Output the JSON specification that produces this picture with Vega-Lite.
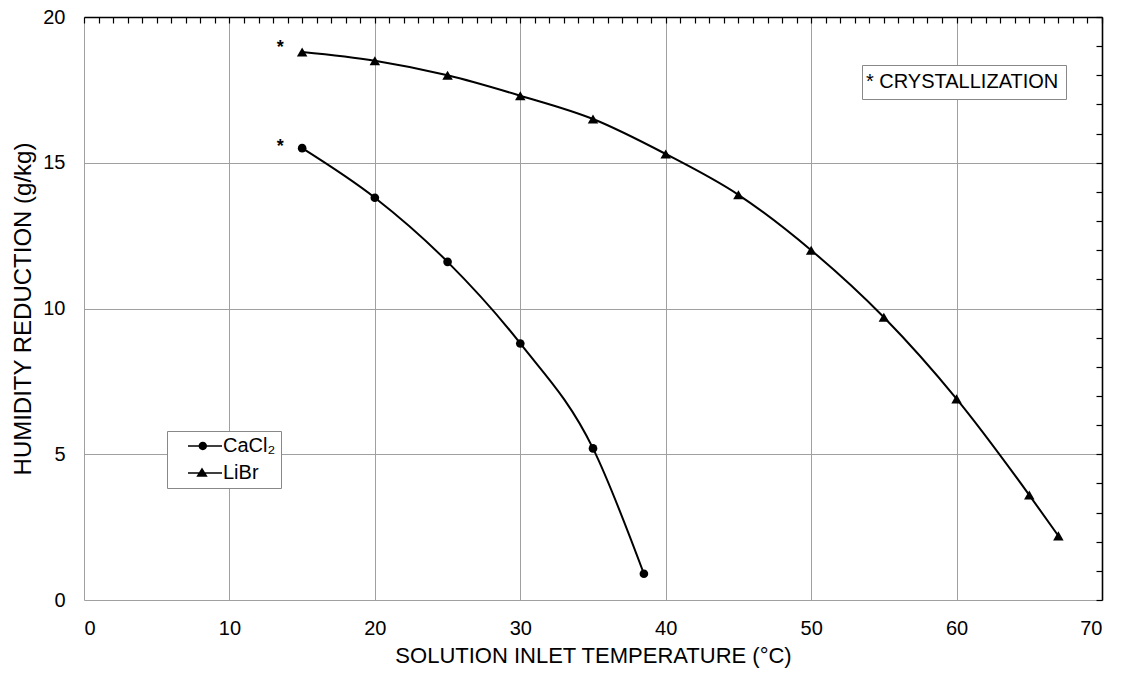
{
  "$schema": "https://vega.github.io/schema/vega-lite/v6.json",
  "width": 1018,
  "height": 583,
  "autosize": {"type": "none"},
  "padding": {"left": 84, "top": 17, "right": 21, "bottom": 83},
  "background": "white",
  "config": {
    "font": "Liberation Sans",
    "view": {"stroke": null},
    "axis": {"labelColor": "black", "titleColor": "black", "titleFontWeight": "normal", "labelFont": "Liberation Sans", "titleFont": "Liberation Sans"},
    "legend": {"labelFont": "Liberation Sans", "labelColor": "black"}
  },
  "datasets": {
    "curves": [
      {"series": "CaCl₂", "temp": 15, "hr": 15.5},
      {"series": "CaCl₂", "temp": 20, "hr": 13.8},
      {"series": "CaCl₂", "temp": 25, "hr": 11.6},
      {"series": "CaCl₂", "temp": 30, "hr": 8.8},
      {"series": "CaCl₂", "temp": 35, "hr": 5.2},
      {"series": "CaCl₂", "temp": 38.5, "hr": 0.9},
      {"series": "LiBr", "temp": 15, "hr": 18.8},
      {"series": "LiBr", "temp": 20, "hr": 18.5},
      {"series": "LiBr", "temp": 25, "hr": 18.0},
      {"series": "LiBr", "temp": 30, "hr": 17.3},
      {"series": "LiBr", "temp": 35, "hr": 16.5},
      {"series": "LiBr", "temp": 40, "hr": 15.3},
      {"series": "LiBr", "temp": 45, "hr": 13.9},
      {"series": "LiBr", "temp": 50, "hr": 12.0},
      {"series": "LiBr", "temp": 55, "hr": 9.7},
      {"series": "LiBr", "temp": 60, "hr": 6.9},
      {"series": "LiBr", "temp": 65, "hr": 3.6},
      {"series": "LiBr", "temp": 67, "hr": 2.2}
    ],
    "marks": [
      {"temp": 13.5, "hr": 18.95, "note": "* CRYSTALLIZATION"},
      {"temp": 13.5, "hr": 15.55, "note": "* CRYSTALLIZATION"}
    ]
  },
  "layer": [
    {
      "data": {"name": "curves"},
      "mark": {"type": "line", "interpolate": "monotone", "color": "black", "strokeWidth": 2},
      "encoding": {
        "x": {"field": "temp", "type": "quantitative", "scale": {"domain": [0, 70], "nice": false},
          "axis": {"values": [0, 10, 20, 30, 40, 50, 60, 70], "grid": true, "gridColor": "#a0a0a0", "gridWidth": 1, "ticks": false, "domain": false,
            "labelFontSize": 20, "labelPadding": 18, "title": "SOLUTION INLET TEMPERATURE (°C)", "titleFontSize": 22, "titlePadding": 7}},
        "y": {"field": "hr", "type": "quantitative", "scale": {"domain": [0, 20], "nice": false},
          "axis": {"values": [0, 5, 10, 15, 20], "grid": true, "gridColor": "#a0a0a0", "gridWidth": 1, "ticks": false, "domain": false,
            "labelFontSize": 20, "labelPadding": 19, "title": "HUMIDITY REDUCTION (g/kg)", "titleFontSize": 24, "titlePadding": 7}},
        "detail": {"field": "series"}
      }
    },
    {
      "data": {"name": "curves"},
      "mark": {"type": "point", "filled": true, "color": "black", "opacity": 1},
      "encoding": {
        "x": {"field": "temp", "type": "quantitative",
          "axis": {"values": [0,1,2,3,4,5,6,7,8,9,10,11,12,13,14,15,16,17,18,19,20,21,22,23,24,25,26,27,28,29,30,31,32,33,34,35,36,37,38,39,40,41,42,43,44,45,46,47,48,49,50,51,52,53,54,55,56,57,58,59,60,61,62,63,64,65,66,67,68,69,70],
            "labels": false, "grid": false, "ticks": true, "tickSize": -6, "tickColor": "black", "tickWidth": 1.2, "domain": true, "domainColor": "black", "domainWidth": 1.6, "title": null}},
        "y": {"field": "hr", "type": "quantitative",
          "axis": {"values": [0,1,2,3,4,5,6,7,8,9,10,11,12,13,14,15,16,17,18,19,20],
            "labels": false, "grid": false, "ticks": true, "tickSize": -6, "tickColor": "black", "tickWidth": 1.2, "domain": true, "domainColor": "black", "domainWidth": 1.6, "title": null}},
        "shape": {"field": "series", "type": "nominal",
          "scale": {"domain": ["CaCl₂", "LiBr"], "range": ["circle", "triangle-up"]}, "legend": null},
        "size": {"field": "series", "type": "nominal",
          "scale": {"domain": ["CaCl₂", "LiBr"], "range": [75, 110]}, "legend": null}
      }
    },
    {
      "data": {"name": "curves"},
      "mark": {"type": "point", "filled": true, "color": "black", "opacity": 0},
      "encoding": {
        "x": {"field": "temp", "type": "quantitative", "axis": null},
        "y": {"field": "hr", "type": "quantitative", "axis": null},
        "shape": {"field": "series", "type": "nominal",
          "scale": {"domain": ["CaCl₂", "LiBr"], "range": [
            "M-1.7,-0.08H1.7V0.08H-1.7ZM0.2,0A0.42,0.42 0 1 1 -0.64,0A0.42,0.42 0 1 1 0.2,0Z",
            "M-1.7,-0.08H1.7V0.08H-1.7ZM-0.3,-0.55L0.27,0.38L-0.87,0.38Z"]},
          "legend": {"orient": "none", "legendX": 83, "legendY": 414, "title": null, "strokeColor": "#888", "fillColor": "white", "padding": 5,
            "labelFontSize": 20, "symbolSize": 400, "symbolFillColor": "black", "symbolStrokeColor": "black", "symbolStrokeWidth": 0, "symbolOpacity": 1,
            "symbolOffset": 23, "rowPadding": 7, "labelOffset": 8}}
      }
    },
    {
      "data": {"name": "marks"},
      "mark": {"type": "text", "text": "*", "fontSize": 18, "fontWeight": "bold", "color": "black"},
      "encoding": {
        "x": {"field": "temp", "type": "quantitative", "axis": null},
        "y": {"field": "hr", "type": "quantitative", "axis": null},
        "opacity": {"field": "note", "type": "ordinal", "scale": {"range": [1]},
          "legend": {"orient": "none", "legendX": 778, "legendY": 48, "title": null, "strokeColor": "#888", "fillColor": "white", "padding": 7,
            "labelFontSize": 20, "labelLimit": 400, "symbolSize": 0, "symbolOpacity": 0, "symbolOffset": 0, "labelOffset": -23}}
      }
    }
  ],
  "resolve": {"axis": {"x": "independent", "y": "independent"}, "scale": {"shape": "independent"}}
}
